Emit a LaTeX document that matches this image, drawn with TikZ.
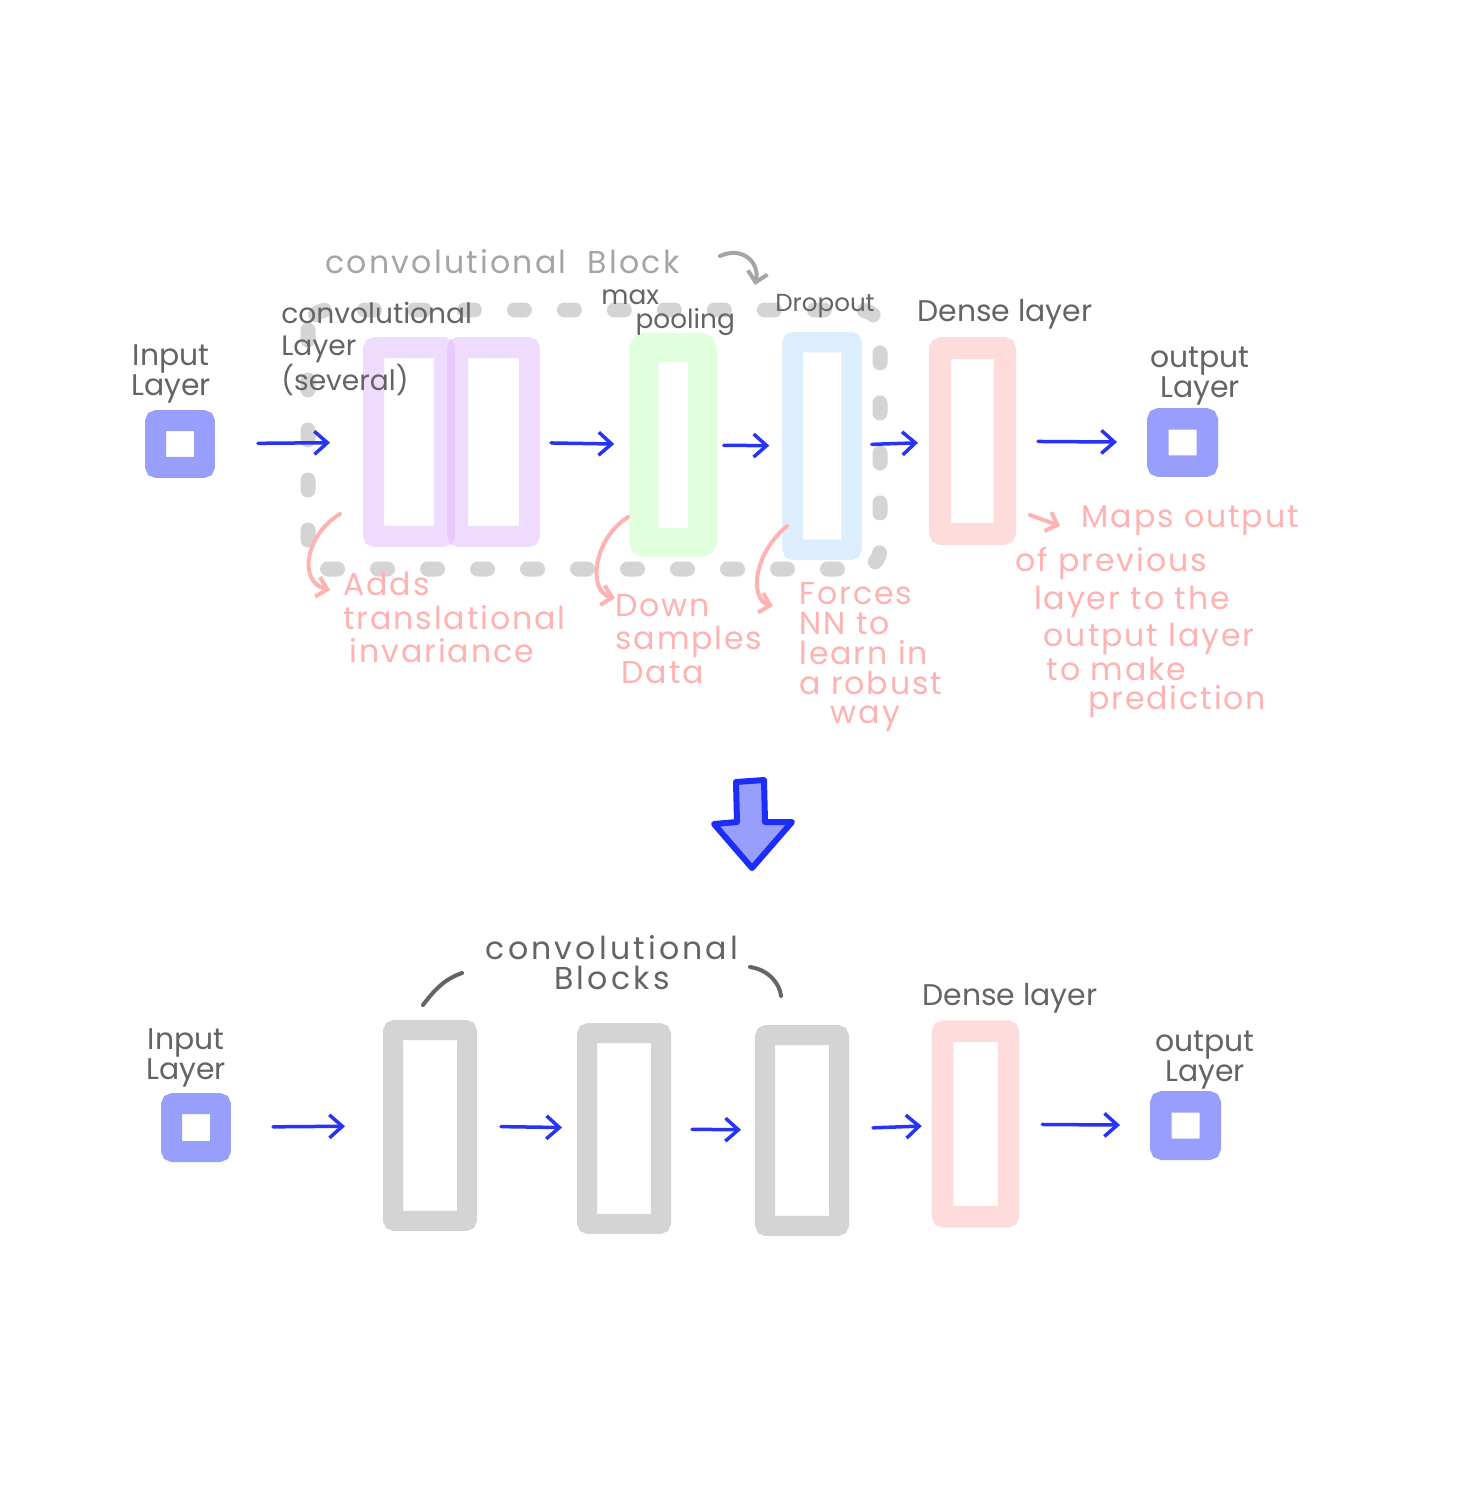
\documentclass[tikz,border=0pt]{standalone}
\usepackage{fontspec}
\setmainfont{Poppins}
\usetikzlibrary{arrows.meta}

\definecolor{inkblue}{RGB}{40,52,245}
\definecolor{sqblue}{RGB}{151,158,251}
\definecolor{convpurple}{RGB}{225,185,253}
\definecolor{poolgreen}{RGB}{224,255,220}
\definecolor{dropblue}{RGB}{220,238,254}
\definecolor{densepink}{RGB}{255,220,220}
\definecolor{blockgray}{RGB}{212,212,212}
\definecolor{labelgray}{RGB}{100,100,100}
\definecolor{titlegray}{RGB}{165,165,165}
\definecolor{notepink}{RGB}{255,178,178}
\definecolor{bigblue}{RGB}{28,45,250}

\tikzset{
  layer/.style={draw=#1, line width=0.42cm, rounded corners=0.04cm, inner sep=0pt},
  flow/.style={draw=inkblue, line width=0.07cm, line cap=round,
    -{Straight Barb[length=0.26cm, width=0.46cm]}},
  blockbox/.style={draw=blockgray, line width=0.3cm, line cap=round,
    dash pattern=on 0.2cm off 0.8cm, rounded corners=0.4cm},
  label/.style={text=labelgray, font=\fontsize{17}{16}\selectfont, align=center, inner sep=0pt},
  title/.style={text=titlegray, font=\fontsize{18}{17}\selectfont\addfontfeature{LetterSpace=7}, inner sep=0pt},
  note/.style={text=notepink, font=\fontsize{18}{19}\selectfont\addfontfeature{LetterSpace=6}, align=left, inner sep=0pt},
  notearrow/.style={draw=notepink, line width=0.08cm, line cap=round,
    -{Straight Barb[length=0.2cm, width=0.4cm]}},
  grayarrow/.style={draw=titlegray, line width=0.08cm, line cap=round,
    -{Straight Barb[length=0.2cm, width=0.4cm]}},
  bracket/.style={draw=labelgray, line width=0.08cm, line cap=round},
  bigarrow/.style={fill=sqblue, draw=bigblue, line width=0.12cm, line join=round}
}

\begin{document}
\begin{tikzpicture}[x=0.02cm, y=-0.02cm]

\useasboundingbox (0,0) rectangle (1473,1500);
\fill[white] (0,0) rectangle (1473,1500);

% top row
\draw[blockbox] (308,310) rectangle (880,569);

\node[layer=sqblue, minimum width=0.98cm, minimum height=0.94cm] (in1) at (180,444) {};
\node[layer=convpurple, draw opacity=0.5, minimum width=1.42cm, minimum height=3.78cm] (conv1a) at (409,442) {};
\node[layer=convpurple, draw opacity=0.5, minimum width=1.44cm, minimum height=3.78cm] (conv1b) at (493.5,442) {};
\node[layer=poolgreen, line width=0.58cm, minimum width=1.17cm, minimum height=3.9cm] (pool) at (673,445) {};
\node[layer=dropblue, line width=0.41cm, minimum width=1.18cm, minimum height=4.16cm] (drop) at (822,446) {};
\node[layer=densepink, line width=0.44cm, minimum width=1.3cm, minimum height=3.72cm] (dense1) at (972.5,441) {};
\node[layer=sqblue, line width=0.43cm, minimum width=0.99cm, minimum height=0.95cm] (out1) at (1182.5,442.5) {};

\draw[flow, shorten <=0.86cm, shorten >=0.66cm] (in1) -- (conv1a);
\draw[flow, shorten <=0.22cm, shorten >=0.3cm] (conv1b) -- (pool);
\draw[flow, shorten <=0.14cm, shorten >=0.26cm] (pool) -- (drop);
\draw[flow, shorten <=0.2cm, shorten >=0.22cm] (drop) -- (dense1);
\draw[flow, shorten <=0.44cm, shorten >=0.6cm] (dense1) -- (out1);

\node[label] (inlab1) at (171,374) {Input\\Layer};
\node[label, align=left, anchor=north west, font=\fontsize{16}{18}\selectfont] (convlab) at (281,302) {convolutional\\Layer\\(several)};
\node[label, align=left, anchor=north west, font=\fontsize{15}{16}\selectfont] (poollab) at (601,289) {max\\[-2pt]\hspace*{1.3em}pooling};
\node[label, font=\fontsize{14}{16}\selectfont] (droplab) at (825,306) {Dropout};
\node[label] (denselab1) at (1005,314) {Dense layer};
\node[label] (outlab1) at (1200,376) {output\\Layer};

\node[title, anchor=west] (blocktitle) at (325,262) {convolutional \ Block};
\coordinate (blockhook) at (720,256);
\coordinate (blocktip) at (755,285);
\draw[grayarrow] (blockhook) .. controls (742,246) and (760,262) .. (blocktip);

% notes
\coordinate (addsfrom) at (340,514);
\coordinate (addsto) at (330,590);
\coordinate (downfrom) at (628,517);
\coordinate (downto) at (615,598);
\coordinate (forcesfrom) at (787,526);
\coordinate (forcesto) at (773,606);
\coordinate (mapsfrom) at (1030,515);
\coordinate (mapsto) at (1060,526);

\draw[notearrow] (addsfrom) .. controls (305,535) and (298,582) .. (addsto);
\draw[notearrow] (downfrom) .. controls (592,540) and (588,592) .. (downto);
\draw[notearrow] (forcesfrom) .. controls (752,555) and (750,600) .. (forcesto);
\draw[notearrow] (mapsfrom) -- (mapsto);

\node[note, anchor=north west] (addsnote) at (343,572) {Adds\\translational\\\hspace*{0.2em}invariance};
\node[note, anchor=north west] (downnote) at (615,594) {Down\\samples\\\hspace*{0.2em}Data};
\node[note, anchor=north west, font=\fontsize{18}{17}\selectfont\addfontfeature{LetterSpace=6}] (forcesnote) at (799,582) {Forces\\NN to\\learn in\\a robust\\\hspace*{1em}way};
\node[note, anchor=north west] (mapsnote) at (1015,505) {\hspace*{2.1em}Maps output\\[6pt]of previous\\[3pt]\hspace*{0.6em}layer to the\\[2pt]\hspace*{0.9em}output layer\\[0pt]\hspace*{1em}to make\\[-2pt]\hspace*{2.3em}prediction};

% big arrow
\filldraw[bigarrow] (736,782) -- (764,780) -- (765,822) -- (792,822) -- (752,868) -- (714,824) -- (737,822) -- cycle;

% bottom row
\node[layer=sqblue, minimum width=0.98cm, minimum height=0.96cm] (in2) at (196,1127.5) {};
\node[layer=blockgray, line width=0.4cm, minimum width=1.48cm, minimum height=3.82cm] (blk1) at (430,1125.5) {};
\node[layer=blockgray, line width=0.4cm, minimum width=1.48cm, minimum height=3.82cm] (blk2) at (624,1128.5) {};
\node[layer=blockgray, line width=0.4cm, minimum width=1.48cm, minimum height=3.82cm] (blk3) at (802,1130.5) {};
\node[layer=densepink, line width=0.43cm, minimum width=1.32cm, minimum height=3.72cm] (dense2) at (975.5,1124) {};
\node[layer=sqblue, line width=0.43cm, minimum width=0.99cm, minimum height=0.95cm] (out2) at (1185.5,1125.5) {};

\draw[flow, shorten <=0.84cm, shorten >=0.76cm] (in2) -- (blk1);
\draw[flow, shorten <=0.48cm, shorten >=0.3cm] (blk1) -- (blk2);
\draw[flow, shorten <=0.42cm, shorten >=0.28cm] (blk2) -- (blk3);
\draw[flow, shorten <=0.48cm, shorten >=0.2cm] (blk3) -- (dense2);
\draw[flow, shorten <=0.46cm, shorten >=0.6cm] (dense2) -- (out2);

\node[label] (inlab2) at (186,1058) {Input\\Layer};
\node[label, font=\fontsize{18}{17}\selectfont\addfontfeature{LetterSpace=10}] (blocklab) at (612,963) {convolutional\\Blocks};
\node[label] (denselab2) at (1010,998) {Dense layer};
\node[label] (outlab2) at (1205,1060) {output\\Layer};

\draw[bracket] (423,1005) .. controls (438,985) and (448,978) .. (462,973);
\draw[bracket] (750,967) .. controls (770,970) and (780,985) .. (781,996);

\end{tikzpicture}
\end{document}
